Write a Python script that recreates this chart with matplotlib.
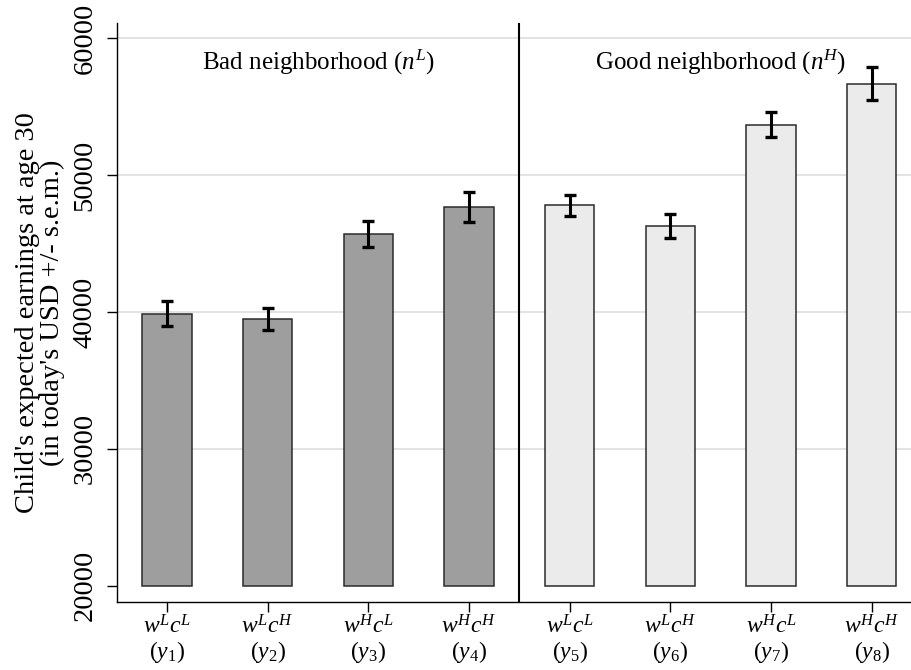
import matplotlib
matplotlib.use("Agg")
import matplotlib.pyplot as plt
import numpy as np

# ---- data ----
labels_top = ["w^L c^L", "w^L c^H", "w^H c^L", "w^H c^H",
              "w^L c^L", "w^L c^H", "w^H c^L", "w^H c^H"]
labels_bottom = ["1", "2", "3", "4", "5", "6", "7", "8"]
means = [39870, 39520, 45680, 47700, 47800, 46300, 53700, 56690]
sems = [920, 800, 950, 1100, 770, 860, 890, 1215]
groups = ["Bad neighborhood ($n^L$)", "Good neighborhood ($n^H$)"]
base = 20000

plt.rcParams['font.family'] = ['Liberation Serif', 'DejaVu Serif']
plt.rcParams['mathtext.fontset'] = 'custom'
plt.rcParams['mathtext.rm'] = 'Liberation Serif'
plt.rcParams['mathtext.it'] = 'Liberation Serif:italic'
plt.rcParams['mathtext.bf'] = 'Liberation Serif:bold'

fig = plt.figure(figsize=(9.11, 6.70), dpi=100)
ax = fig.add_axes([116.7/911, 68.3/670, 1 - 116.7/911, (601.7-23.3)/670])

x = np.arange(len(means))
colors = ['#9e9e9e']*4 + ['#ebebeb']*4
heights = [m - base for m in means]
ax.bar(x, heights, bottom=base, width=0.49, color=colors, edgecolor='#2b2b2b',
       linewidth=1.1, zorder=2)
ax.errorbar(x, means, yerr=sems, fmt='none', ecolor='black', elinewidth=2.2,
            capsize=4.6, capthick=2.4, zorder=3)

ax.set_xlim(-0.5, 7.39)
ax.set_ylim(18830, 61110)
ax.set_yticks([20000, 30000, 40000, 50000, 60000])
ax.set_yticklabels(['20000', '30000', '40000', '50000', '60000'], rotation=90,
                   va='center', fontsize=20.5)
for g in [30000, 40000, 50000, 60000]:
    ax.axhline(g, color='#e0e0e0', linewidth=1.3, zorder=0)

ax.axvline(3.5, color='black', linewidth=1.5, zorder=4)

ticklabels = ["$" + t + "$\n$(y_{\\mathit{" + b + "}})$" for t, b in zip(labels_top, labels_bottom)]
ax.set_xticks(x)
ax.set_xticklabels(ticklabels, fontsize=17, linespacing=1.0)

ax.tick_params(axis='y', length=7, width=1.0, pad=7)
ax.tick_params(axis='x', length=7, width=1.0, pad=3)

for s in ['top', 'right']:
    ax.spines[s].set_visible(False)
for s in ['left', 'bottom']:
    ax.spines[s].set_linewidth(1.0)

ax.text(1.5, 57700, groups[0], ha='center', va='baseline', fontsize=18)
ax.text(5.5, 57700, groups[1], ha='center', va='baseline', fontsize=18)

ax.set_ylabel("Child's expected earnings at age 30\n(in today's USD +/- s.e.m.)",
              fontsize=20.5, linespacing=1.0, labelpad=5)

fig.savefig('out.png', dpi=100)
